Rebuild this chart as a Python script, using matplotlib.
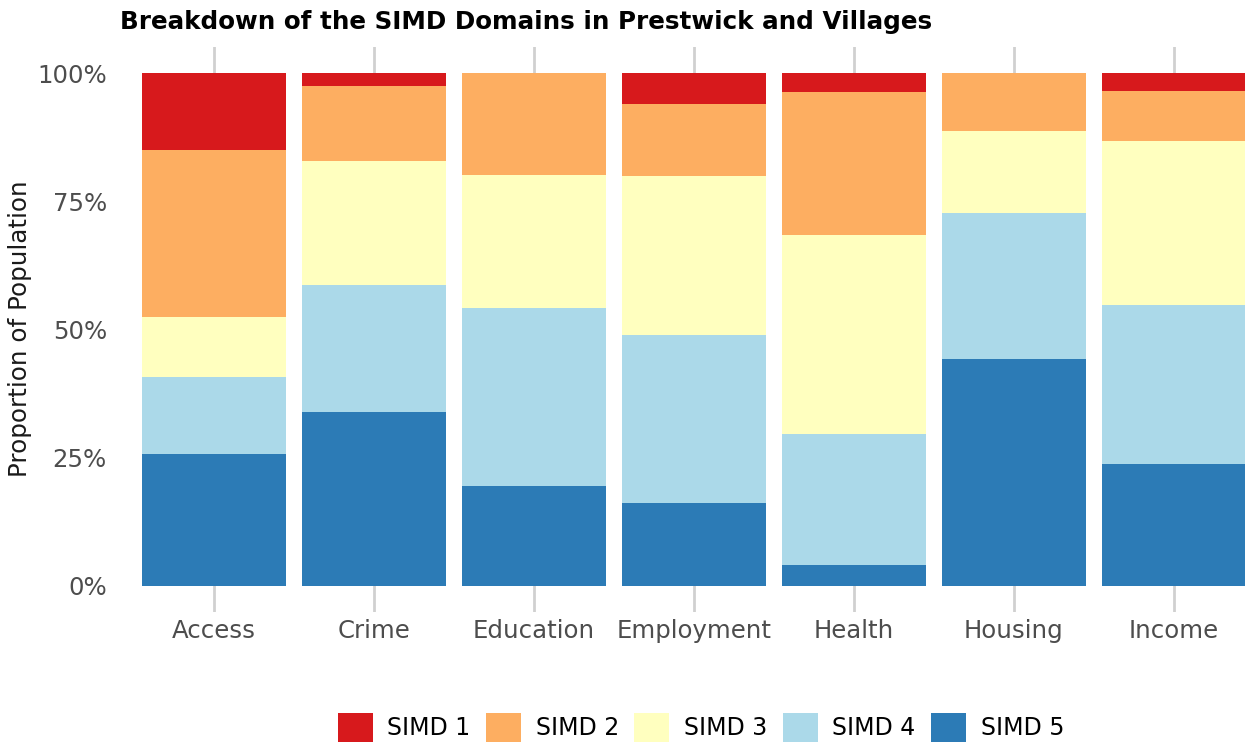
import matplotlib
matplotlib.use("Agg")
import matplotlib.pyplot as plt
from matplotlib.ticker import FuncFormatter
from matplotlib.patches import Patch
import numpy as np

domains = ["Access", "Crime", "Education", "Employment", "Health", "Housing", "Income"]
series = ["SIMD 1", "SIMD 2", "SIMD 3", "SIMD 4", "SIMD 5"]
simd1 = [15.0, 2.5, 0.0, 6.0, 3.6, 0.0, 3.5]
simd2 = [32.6, 14.7, 19.9, 14.1, 28.0, 11.3, 9.8]
simd3 = [11.7, 24.1, 25.9, 31.0, 38.8, 16.0, 31.9]
simd4 = [15.0, 24.8, 34.7, 32.7, 25.5, 28.5, 31.0]
simd5 = [25.7, 33.9, 19.5, 16.2, 4.1, 44.2, 23.8]
colors = ["#d7191c", "#fdae61", "#ffffbf", "#abd9e9", "#2c7bb6"]
yticks = [0, 0.25, 0.5, 0.75, 1.0]

plt.rcParams['font.family'] = ['DejaVu Sans']

fig = plt.figure(figsize=(12.45, 7.45), dpi=100)
W, H = 1245, 745
left, right, top, bottom = 118, 1270, 47.4, 611.6
ax = fig.add_axes([left / W, 1 - bottom / H, (right - left) / W, (bottom - top) / H])

x = np.arange(1, len(domains) + 1)
vals = [simd1, simd2, simd3, simd4, simd5]
totals = np.sum(np.array(vals), axis=0)
base = np.zeros(len(domains))
# stack from SIMD 5 at bottom to SIMD 1 on top
for i in range(len(series) - 1, -1, -1):
    v = np.array(vals[i]) / totals
    ax.bar(x, v, bottom=base, width=0.9, color=colors[i], linewidth=0, zorder=3)
    base += v

ax.set_xlim(0.4, 7.6)
ax.set_ylim(-0.05, 1.05)
ax.set_xticks(x)
ax.set_xticklabels(domains)
ax.set_yticks(yticks)
ax.yaxis.set_major_formatter(FuncFormatter(lambda v, p: f"{int(round(v * 100))}%"))
ax.grid(axis='x', color='#d0d0d0', linewidth=2, zorder=0)
ax.grid(axis='y', visible=False)
for s in ax.spines.values():
    s.set_visible(False)
ax.tick_params(axis='both', length=0, labelsize=17.6, labelcolor='#4d4d4d')
ax.tick_params(axis='y', pad=8)
ax.tick_params(axis='x', pad=5)

fig.text(20 / W, 1 - 329 / H, "Proportion of Population", rotation=90,
         ha='center', va='center', fontsize=17.7, color='#1a1a1a')
fig.text(120 / W, 1 - 29.5 / H, "Breakdown of the SIMD Domains in Prestwick and Villages",
         ha='left', va='baseline', fontsize=17.75, fontweight='bold', color='black')

handles = [Patch(facecolor=c, edgecolor='none', label=s) for c, s in zip(colors, series)]
fig.legend(handles=handles, loc='center', bbox_to_anchor=(701 / W, 1 - 727.5 / H),
           ncol=5, frameon=False, fontsize=17, handlelength=1.48, handleheight=1.48,
           handletextpad=0.62, columnspacing=0.66, borderpad=0, borderaxespad=0)

fig.savefig("out.png", dpi=100)
